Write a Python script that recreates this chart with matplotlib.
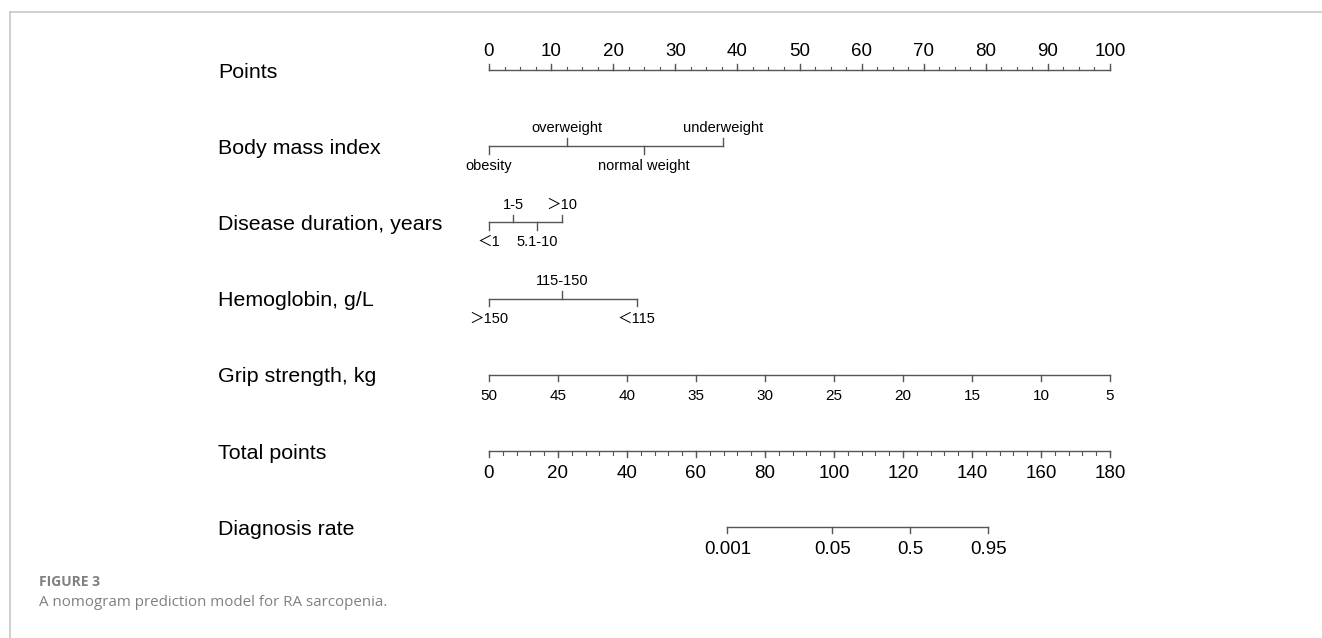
import matplotlib.pyplot as plt
import numpy as np
from matplotlib.lines import Line2D

plt.rcParams['font.family'] = ['Liberation Sans', 'Noto Sans CJK SC', 'DejaVu Sans']

# row labels, top to bottom
row_names = ['Points', 'Body mass index', 'Disease duration, years', 'Hemoglobin, g/L',
             'Grip strength, kg', 'Total points', 'Diagnosis rate']

# categorical predictors: level name, points, label above (True) or below
bmi_levels = ['obesity', 'overweight', 'normal weight', 'underweight']
bmi_points = [0, 12.5, 25.0, 37.7]
bmi_above = [False, True, False, True]

dur_levels = ['＜1', '1-5', '5.1-10', '＞10']
dur_points = [0, 3.9, 7.8, 11.7]
dur_above = [False, True, False, True]

hb_levels = ['＞150', '115-150', '＜115']
hb_points = [0, 11.8, 23.8]
hb_above = [False, True, False]

# grip strength: 50 kg -> 0 points, 5 kg -> 100 points
grip_ticks = [50, 45, 40, 35, 30, 25, 20, 15, 10, 5]
grip_range = (50, 5)

total_max = 180
total_ticks = np.arange(0, 181, 20)
rate_ticks = [0.001, 0.05, 0.5, 0.95]
# linear predictor = lp_a + lp_b * total points
lp_b = 0.1303
lp_a = -lp_b * 122.1

LINE = '#555555'
px_per_pt = 6.21
x0_px = 489
row0_px = 70
row_px = 76.2
W, H = 1322, 638

fig = plt.figure(figsize=(W / 100, H / 100), dpi=100)
ax = fig.add_axes([0, 0, 1, 1])
ax.set_xlim(-x0_px / px_per_pt, (W - x0_px) / px_per_pt)
ax.set_ylim((H - row0_px) / row_px, -row0_px / row_px)
ax.axis('off')

tick_major = 6 / row_px
tick_minor = 3.5 / row_px


def scale(y, pos, labels, up, minor=(), size=14):
    ax.plot([min(pos), max(pos)], [y, y], color=LINE, lw=1)
    sign = -1 if up else 1
    for p in minor:
        ax.plot([p, p], [y, y + sign * tick_minor], color=LINE, lw=0.8)
    for p, lab in zip(pos, labels):
        ax.plot([p, p], [y, y + sign * tick_major], color=LINE, lw=1)
        if up:
            ax.text(p, y - tick_major - 4 / row_px, lab, ha='center', va='bottom', fontsize=size)
        else:
            ax.text(p, y + tick_major + 8 / row_px, lab, ha='center', va='top', fontsize=size)


def categorical(y, pos, labels, above):
    ax.plot([min(pos), max(pos)], [y, y], color=LINE, lw=1)
    for p, lab, a in zip(pos, labels, above):
        s = -1 if a else 1
        ax.plot([p, p], [y, y + s * tick_major * 1.3], color=LINE, lw=1)
        if a:
            ax.text(p, y - tick_major * 1.3 - 3 / row_px, lab, ha='center', va='bottom', fontsize=10.5)
        else:
            ax.text(p, y + tick_major * 1.3 + 5 / row_px, lab, ha='center', va='top', fontsize=10.5)


for i, name in enumerate(row_names):
    ax.text((218 - x0_px) / px_per_pt, i + 2 / row_px, name, ha='left', va='center', fontsize=15.4)

# Points
pts_major = np.arange(0, 101, 10)
pts_minor = np.arange(0, 100.1, 2.5)
scale(0, pts_major, [str(v) for v in pts_major], up=True, minor=pts_minor, size=13.5)

categorical(1, bmi_points, bmi_levels, bmi_above)
categorical(2, dur_points, dur_levels, dur_above)
categorical(3, hb_points, hb_levels, hb_above)

# Grip strength
g_hi, g_lo = grip_range
grip_pos = [(g_hi - g) * 100 / (g_hi - g_lo) for g in grip_ticks]
scale(4, grip_pos, [str(g) for g in grip_ticks], up=False, size=11)

# Total points
tp_pos = total_ticks * 100 / total_max
tp_minor = np.arange(0, total_max + 0.1, 4) * 100 / total_max
scale(5, tp_pos, [str(v) for v in total_ticks], up=False, minor=tp_minor, size=13.5)

# Diagnosis rate
rate = np.array(rate_ticks)
rate_tp = (np.log(rate / (1 - rate)) - lp_a) / lp_b
scale(6, rate_tp * 100 / total_max, [f'{r:g}' for r in rate_ticks], up=False, size=13.5)

# page frame and caption
fig.add_artist(Line2D([10 / W, 1], [1 - 11.5 / H, 1 - 11.5 / H], color='#c8c8c8', lw=1.2))
fig.add_artist(Line2D([10 / W, 10 / W], [0, 1 - 11.5 / H], color='#c8c8c8', lw=1.2))
fig.text(39 / W, 1 - 582 / H, 'FIGURE 3', fontsize=10, color='#808080', fontweight='bold',
         family='Open Sans', va='center')
fig.text(39 / W, 1 - 602 / H, 'A nomogram prediction model for RA sarcopenia.', fontsize=10.9,
         color='#808080', family='Open Sans', va='center')

fig.savefig('out.png', dpi=100)
